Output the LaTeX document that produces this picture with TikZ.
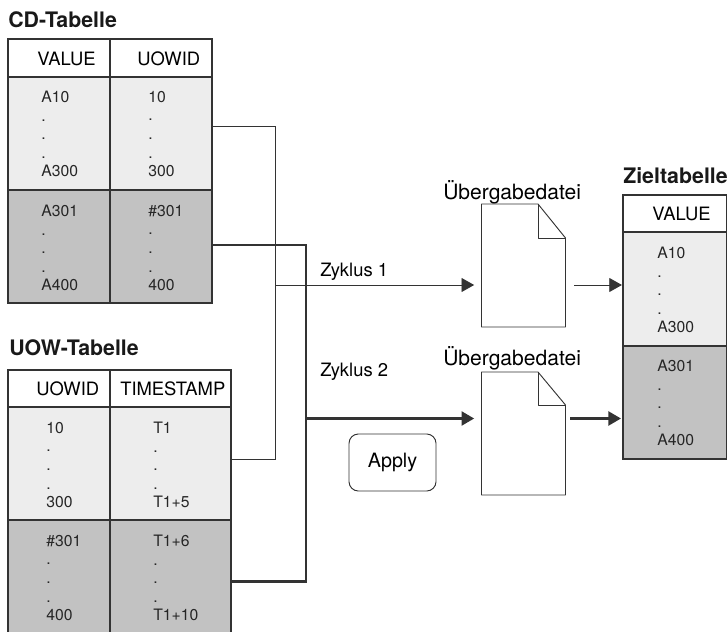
\documentclass[tikz,border=0pt]{standalone}
\usepackage{fontspec}
\setmainfont{TeX Gyre Heros}
\usetikzlibrary{arrows.meta}
\definecolor{linegray}{HTML}{333333}
\definecolor{lightrow}{HTML}{EDEDED}
\definecolor{darkrow}{HTML}{C2C2C2}
\begin{document}
\begin{tikzpicture}[x=0.75pt,y=-0.75pt]
    % Stile
    \tikzstyle{headcell}=[draw=linegray, line width=0.8pt, fill=white, anchor=north west, inner sep=0pt, outer sep=0pt]
    \tikzstyle{lightcell}=[headcell, fill=lightrow]
    \tikzstyle{darkcell}=[headcell, fill=darkrow]
    \tikzstyle{headtext}=[anchor=west, inner sep=0pt, font=\fontsize{13.8}{16}\selectfont]
    \tikzstyle{celltext}=[anchor=north west, inner sep=0pt, align=left, text=black!85, font=\fontsize{11.8}{13.9}\selectfont]
    \tikzstyle{tabletitle}=[anchor=west, inner sep=0pt, text=black!90, font=\fontsize{16}{18}\selectfont\bfseries]
    \tikzstyle{doctitle}=[anchor=west, inner sep=0pt, font=\fontsize{15.8}{18}\selectfont]
    \tikzstyle{docbox}=[minimum width=63pt, minimum height=92.25pt, inner sep=0pt, outer sep=0pt]
    \tikzstyle{docline}=[draw=linegray, line width=0.7pt, line join=round]
    \tikzstyle{dataline}=[draw=linegray, line width=0.7pt]
    \tikzstyle{boldline}=[draw=linegray, line width=1.9pt]
    \tikzstyle{tip}=[-{Triangle[length=9.5pt,width=10.5pt]}]

    \useasboundingbox (0,0) rectangle (727,631);
    \clip (0,0) rectangle (727,631);

    % CD-Tabelle
    \node[tabletitle] (cd_title) at (8,20) {CD-Tabelle};
    \node[headcell, minimum width=76.5pt, minimum height=28.5pt] (cd_value_head) at (8,39) {};
    \node[headcell, minimum width=76.5pt, minimum height=28.5pt] (cd_uowid_head) at (110,39) {};
    \node[lightcell, minimum width=76.5pt, minimum height=84.75pt] (cd_value_light) at (8,77) {};
    \node[lightcell, minimum width=76.5pt, minimum height=84.75pt] (cd_uowid_light) at (110,77) {};
    \node[darkcell, minimum width=76.5pt, minimum height=84.75pt] (cd_value_dark) at (8,190) {};
    \node[darkcell, minimum width=76.5pt, minimum height=84.75pt] (cd_uowid_dark) at (110,190) {};
    \node[headtext] (cd_value_label) at (37,58.5) {VALUE};
    \node[headtext] (cd_uowid_label) at (137,58.5) {UOWID};
    \node[celltext] (cd_value_a) at (41,91) {A10\\.\\.\\.\\A300};
    \node[celltext] (cd_uowid_a) at (148,91) {10\\.\\.\\.\\300};
    \node[celltext] (cd_value_b) at (41,205) {A301\\.\\.\\.\\A400};
    \node[celltext] (cd_uowid_b) at (148,205) {\#301\\.\\.\\.\\400};

    % UOW-Tabelle
    \node[tabletitle] (uow_title) at (9,348) {UOW-Tabelle};
    \node[headcell, minimum width=76.5pt, minimum height=27.75pt] (uow_uowid_head) at (8,370) {};
    \node[headcell, minimum width=90.75pt, minimum height=27.75pt] (uow_time_head) at (110,370) {};
    \node[lightcell, minimum width=76.5pt, minimum height=84.75pt] (uow_uowid_light) at (8,407) {};
    \node[lightcell, minimum width=90.75pt, minimum height=84.75pt] (uow_time_light) at (110,407) {};
    \node[darkcell, minimum width=76.5pt, minimum height=90pt] (uow_uowid_dark) at (8,520) {};
    \node[darkcell, minimum width=90.75pt, minimum height=90pt] (uow_time_dark) at (110,520) {};
    \node[headtext] (uow_uowid_label) at (36,389) {UOWID};
    \node[headtext] (uow_time_label) at (120,389) {TIMESTAMP};
    \node[celltext] (uow_uowid_a) at (46,422) {10\\.\\.\\.\\300};
    \node[celltext] (uow_time_a) at (153,422) {T1\\.\\.\\.\\T1+5};
    \node[celltext] (uow_uowid_b) at (46,535) {\#301\\.\\.\\.\\400};
    \node[celltext] (uow_time_b) at (153,535) {T1+6\\.\\.\\.\\T1+10};

    % Zieltabelle
    \node[tabletitle] (ziel_title) at (623,176) {Zieltabelle};
    \node[headcell, minimum width=78pt, minimum height=27.75pt] (ziel_head) at (623,195) {};
    \node[lightcell, minimum width=78pt, minimum height=85.5pt] (ziel_light) at (623,232) {};
    \node[darkcell, minimum width=78pt, minimum height=84.75pt] (ziel_dark) at (623,346) {};
    \node[headtext] (ziel_label) at (652,214) {VALUE};
    \node[celltext] (ziel_a) at (657,247) {A10\\.\\.\\.\\A300};
    \node[celltext] (ziel_b) at (657,360) {A301\\.\\.\\.\\A400};

    % Übergabedateien
    \node[doctitle] (doc1_title) at (443,192) {Übergabedatei};
    \node[docbox] (doc1) at (523.5,265.5) {};
    \draw[docline] (doc1.north west) -- (538,204) -- (doc1.north east |- 0,238) -- (doc1.south east) -- (doc1.south west) -- cycle;
    \draw[docline] (538,204) -- (538,238) -- (doc1.north east |- 0,238);
    \node[doctitle] (doc2_title) at (443,358) {Übergabedatei};
    \node[docbox] (doc2) at (523.5,433.5) {};
    \draw[docline] (doc2.north west) -- (538,372) -- (doc2.north east |- 0,405) -- (doc2.south east) -- (doc2.south west) -- cycle;
    \draw[docline] (538,372) -- (538,405) -- (doc2.north east |- 0,405);

    % Apply
    \node[draw=linegray, line width=0.7pt, rounded corners=7pt, minimum width=65.25pt, minimum height=42.75pt, inner sep=0pt, font=\fontsize{14.8}{16}\selectfont] (apply) at (392.5,462.5) {Apply};

    % Zyklen
    \node[headtext] (zyklus1) at (320,272) {Zyklus 1};
    \node[headtext] (zyklus2) at (320,372) {Zyklus 2};
    \coordinate (thin_bus) at (275,285);
    \coordinate (bold_bus) at (306,418.5);

    % Verbindungen
    \draw[dataline] ([yshift=4.9pt]cd_uowid_light.east) -| (thin_bus);
    \draw[dataline] ([yshift=3.4pt]uow_time_light.east) -| (thin_bus);
    \draw[boldline] ([yshift=1pt]cd_uowid_dark.east) -| (bold_bus);
    \draw[boldline] ([yshift=-1pt]uow_time_dark.east) -| (bold_bus);
    \draw[dataline, tip, shorten >=5.5pt] (thin_bus) -- (thin_bus -| doc1.west);
    \draw[boldline, tip, shorten >=5.5pt] (bold_bus) -- (bold_bus -| doc2.west);
    \draw[dataline, tip, shorten <=6.5pt, shorten >=0.8pt] (thin_bus -| doc1.east) -- (thin_bus -| ziel_light.west);
    \draw[boldline, tip, shorten <=3.5pt, shorten >=1.5pt] (bold_bus -| doc2.east) -- (bold_bus -| ziel_dark.west);
\end{tikzpicture}
\end{document}
